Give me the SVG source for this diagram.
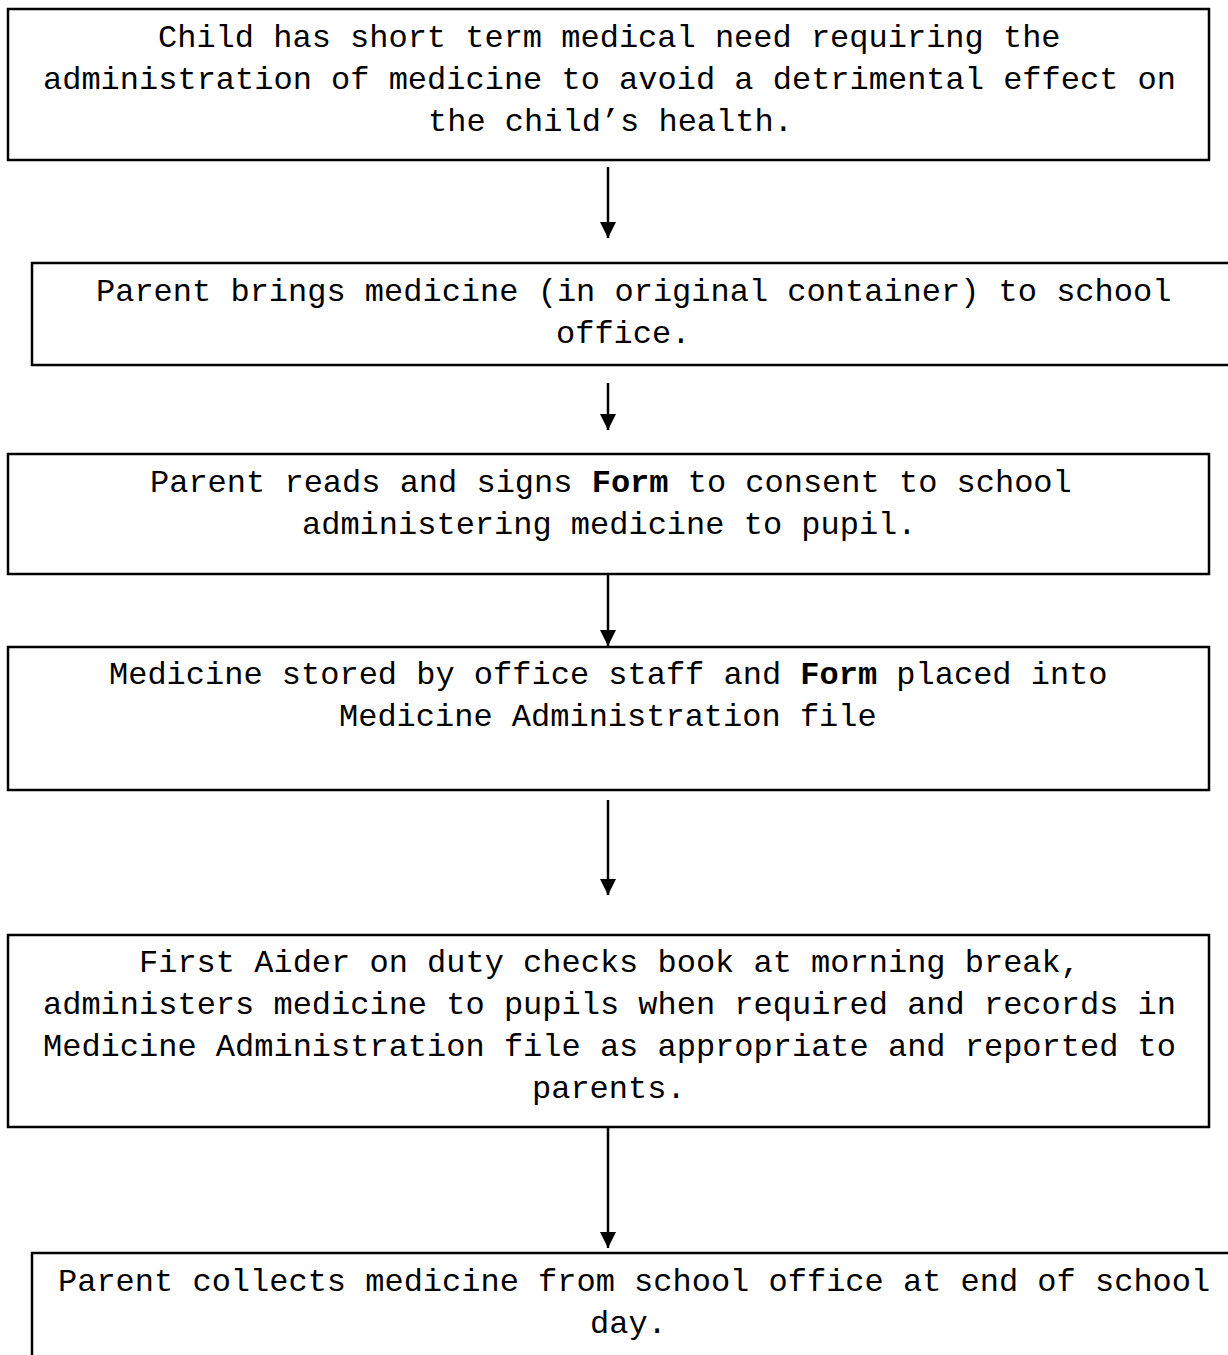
<svg xmlns="http://www.w3.org/2000/svg" width="1228" height="1355" viewBox="0 0 1228 1355">
<style>
.box{fill:#fff;stroke:#000;stroke-width:2.5}
.t{font-family:"Liberation Mono","Courier New",monospace;font-size:32px;fill:#000}
.b{font-weight:bold}
.c{stroke:#000;stroke-width:2.5;fill:none}
</style>
<defs>
<marker id="ah" markerUnits="userSpaceOnUse" markerWidth="18" markerHeight="18" viewBox="0 0 18 18" refX="16" refY="9" orient="auto">
<path d="M0,1 L16,9 L0,17 Z" fill="#000"/>
</marker>
</defs>
<rect width="1228" height="1355" fill="#fff"/>
<g id="connectors">
<line class="c" x1="608" y1="167" x2="608" y2="238" marker-end="url(#ah)"/>
<line class="c" x1="608" y1="383" x2="608" y2="430" marker-end="url(#ah)"/>
<line class="c" x1="608" y1="575" x2="608" y2="646" marker-end="url(#ah)"/>
<line class="c" x1="608" y1="800" x2="608" y2="895" marker-end="url(#ah)"/>
<line class="c" x1="608" y1="1127" x2="608" y2="1248" marker-end="url(#ah)"/>
</g>
<g id="n1">
<rect class="box" x="8" y="9" width="1201" height="151"/>
<text class="t" x="158" y="47">Child has short term medical need requiring the</text>
<text class="t" x="43" y="89">administration of medicine to avoid a detrimental effect on</text>
<text class="t" x="428" y="131">the child’s health.</text>
</g>
<g id="n2">
<rect class="box" x="32" y="263" width="1210" height="102"/>
<text class="t" x="96" y="301">Parent brings medicine (in original container) to school</text>
<text class="t" x="556" y="343">office.</text>
</g>
<g id="n3">
<rect class="box" x="8" y="454" width="1201" height="120"/>
<text class="t" x="150" y="492">Parent reads and signs <tspan class="b">Form</tspan> to consent to school</text>
<text class="t" x="302" y="534">administering medicine to pupil.</text>
</g>
<g id="n4">
<rect class="box" x="8" y="647" width="1201" height="143"/>
<text class="t" x="109" y="684">Medicine stored by office staff and <tspan class="b">Form</tspan> placed into</text>
<text class="t" x="339" y="726">Medicine Administration file</text>
</g>
<g id="n5">
<rect class="box" x="8" y="935" width="1201" height="192"/>
<text class="t" x="139" y="972">First Aider on duty checks book at morning break,</text>
<text class="t" x="43" y="1014">administers medicine to pupils when required and records in</text>
<text class="t" x="43" y="1056">Medicine Administration file as appropriate and reported to</text>
<text class="t" x="532" y="1098">parents.</text>
</g>
<g id="n6">
<rect class="box" x="32" y="1253" width="1210" height="120"/>
<text class="t" x="58" y="1291">Parent collects medicine from school office at end of school</text>
<text class="t" x="590" y="1333">day.</text>
</g>
</svg>
